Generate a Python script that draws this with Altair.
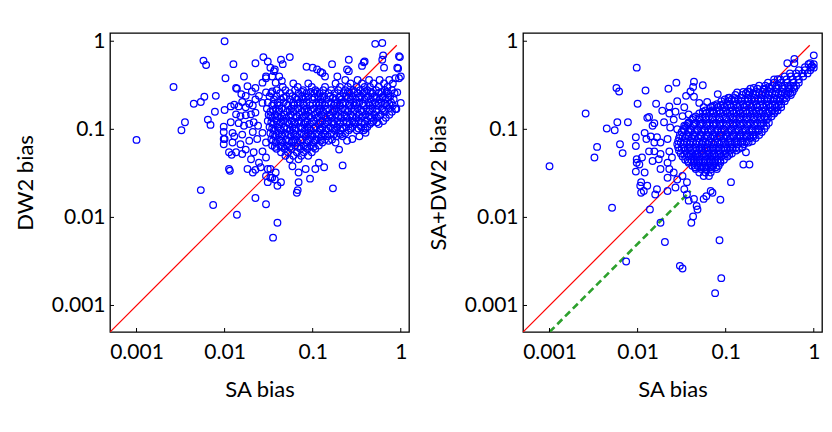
import altair as alt
import pandas as pd

# ---- values, as log10(SA bias), log10(other bias) ----
tick_values = [0.001, 0.01, 0.1, 1]
axis_domain = [0.0005, 1.24]
diag_ends = [0.0005, 0.9]          # red y = x line
green_sa = [0.001, 0.04]           # green dashed line (y = x/2)
green_y = [0.0005, 0.02]

left_outer = [
    (-3.00,-1.12),(-2.58,-0.52),(-2.49,-1.01),(-2.45,-0.92),(-2.35,-0.71),(-2.27,-0.69),(-2.23,-0.63),
    (-2.24,-0.22),(-2.21,-0.27),(-2.27,-1.69),(-2.19,-0.89),(-2.16,-0.95),(-2.13,-1.86),(-2.10,-0.62),
    (-2.11,-0.80),(-2.00,0.00),(-1.99,-0.42),(-1.90,-0.26),(-1.86,-1.97),(-2.00,-0.78),(-2.01,-0.97),
    (-2.00,-1.11),(-2.01,-1.17),(-1.95,-1.26),(-1.92,-1.29),(-1.95,-1.45),(-1.94,-1.47),(-1.86,-0.54),
    (-1.78,-0.40),(-1.89,-1.08),(-1.80,-1.28),(-1.65,-0.25),(-1.56,-0.18),(-1.65,-1.78),(-1.53,-1.85),
    (-1.40,-2.06),(-1.45,-2.23),(-1.26,-0.18),(-1.36,-0.21),(-1.18,-1.72),(-1.17,-1.69),(-1.16,-1.60),
    (-1.03,-1.56),(-0.77,-1.67),(-0.66,-1.41),(-0.78,-0.26),(-0.29,-0.03),(-0.21,-0.02),(-0.20,-0.16),
    (-0.01,-0.18),(-0.03,-0.31),(0.00,-0.40),(-0.02,-0.42),(0.00,-0.70),(-0.05,-0.77),(-0.41,-0.23),
    (-0.44,-0.28),(-0.61,-0.32),(-0.59,-0.34),(-1.07,-0.29),(-1.00,-0.30),(-0.95,-0.32),(-0.89,-0.36),
    (-0.86,-0.40),(-1.48,-0.30),(-1.44,-0.34),(-1.38,-0.40),(-1.35,-0.45),(-1.51,-0.23),(-1.43,-0.32),
    (-1.34,-0.26),(-1.53,-0.40),(-0.91,-0.35),(-0.72,-0.40),(-0.59,-0.21),(-0.42,-0.24),(-0.21,-0.21),
    (-0.19,-0.30),(-0.04,-0.30),(-0.02,-0.17),(-0.06,-0.42),(-0.04,-0.58),(-0.06,-0.77),
    (-0.70,-1.23),(-0.61,-1.13),(-0.55,-1.11),(-0.47,-1.08),(-0.40,-1.04),
    (-1.23,-1.42),(-1.16,-1.49),(-1.08,-1.45),(-0.97,-1.45),(-0.93,-1.38),(-0.87,-1.43),
    (-1.36,-1.60),(-1.46,-1.55),(-1.40,-1.64),(-1.43,-1.57),
]

left_mid = [
    (-1.93,-0.74),(-1.89,-0.72),(-1.84,-0.74),(-1.80,-0.69),(-1.76,-0.75),(-1.72,-0.71),(-1.68,-0.73),
    (-1.65,-0.66),(-1.61,-0.62),(-1.57,-0.70),(-1.87,-0.83),(-1.82,-0.85),(-1.76,-0.84),(-1.70,-0.83),
    (-1.65,-0.81),(-1.93,-0.92),(-1.84,-0.93),(-1.78,-0.96),(-1.72,-0.94),(-1.67,-0.92),(-1.62,-0.96),
    (-2.01,-1.03),(-1.91,-1.04),(-1.80,-1.06),(-1.68,-1.03),(-1.57,-1.04),(-2.01,-1.11),(-1.91,-1.15),
    (-1.82,-1.17),(-1.72,-1.13),(-1.63,-1.11),(-1.53,-1.15),(-1.87,-1.26),(-1.76,-1.23),(-1.67,-1.26),
    (-1.57,-1.25),(-1.70,-1.34),(-1.61,-1.38),(-1.53,-1.32),(-1.74,-1.45),(-1.65,-1.46),(-1.59,-1.43),
    (-1.51,-1.45),(-1.48,-1.45),(-1.68,-1.49),(-1.53,-1.53),(-1.48,-1.55),(-1.42,-1.49),(-1.51,-1.60),
    (-1.87,-0.53),(-1.81,-0.60),(-1.74,-0.51),(-1.69,-0.57),(-1.65,-0.53),(-1.57,-0.47),(-1.53,-0.42),
    (-1.46,-0.40),(-1.42,-0.47),(-1.76,-0.62),(-1.53,-0.58),(-1.46,-0.57),
]

left_core_rows = [
    (-0.44, [-0.63,-0.49,-0.36,-0.24,-0.13]),
    (-0.48, [-1.22,-1.05,-0.74,-0.57,-0.44,-0.31,-0.19,-0.09]),
    (-0.52, [-1.34,-1.17,-1.01,-0.86,-0.69,-0.60,-0.50,-0.41,-0.35,-0.25,-0.15]),
    (-0.555, [-1.41,-1.31,-1.20,-1.11,-0.97,-0.88,-0.79,-0.71,-0.63,-0.54,-0.46,-0.38,-0.28,-0.18,-0.10]),
    (-0.59, [-1.47,-1.37,-1.26,-1.16,-1.07,-0.98,-0.92,-0.82,-0.75,-0.65,-0.58,-0.49,-0.43,-0.32,-0.25,-0.14,-0.07]),
    (-0.625, [-1.49,-1.41,-1.30,-1.23,-1.12,-1.05,-0.94,-0.87,-0.80,-0.69,-0.62,-0.55,-0.45,-0.37,-0.30,-0.20,-0.12]),
    (-0.66, [-1.44,-1.36,-1.26,-1.18,-1.10,-1.00,-0.91,-0.84,-0.74,-0.67,-0.57,-0.51,-0.41,-0.34,-0.24,-0.17,-0.08]),
    (-0.695, [-1.51,-1.40,-1.33,-1.22,-1.14,-1.07,-0.96,-0.89,-0.79,-0.72,-0.63,-0.54,-0.47,-0.37,-0.29,-0.22,-0.11]),
    (-0.73, [-1.46,-1.38,-1.28,-1.21,-1.10,-1.03,-0.93,-0.86,-0.76,-0.69,-0.59,-0.52,-0.42,-0.35,-0.27,-0.16,-0.09]),
    (-0.765, [-1.52,-1.42,-1.35,-1.24,-1.17,-1.07,-0.99,-0.91,-0.83,-0.73,-0.66,-0.56,-0.49,-0.39,-0.32,-0.21,-0.14]),
    (-0.80, [-1.48,-1.39,-1.29,-1.22,-1.12,-1.05,-0.95,-0.88,-0.77,-0.71,-0.60,-0.54,-0.44,-0.36,-0.28,-0.18,-0.10]),
    (-0.835, [-1.50,-1.43,-1.32,-1.25,-1.15,-1.08,-0.98,-0.90,-0.81,-0.74,-0.64,-0.57,-0.47,-0.40,-0.30,-0.23,-0.13]),
    (-0.87, [-1.46,-1.37,-1.30,-1.19,-1.12,-1.02,-0.95,-0.85,-0.78,-0.68,-0.61,-0.51,-0.45,-0.34,-0.27,-0.17]),
    (-0.905, [-1.51,-1.41,-1.33,-1.24,-1.16,-1.06,-0.99,-0.89,-0.82,-0.72,-0.65,-0.55,-0.48,-0.38,-0.31,-0.20]),
    (-0.94, [-1.45,-1.38,-1.27,-1.20,-1.10,-1.03,-0.93,-0.86,-0.76,-0.69,-0.58,-0.52,-0.41,-0.35,-0.25]),
    (-0.975, [-1.49,-1.40,-1.32,-1.23,-1.14,-1.06,-0.97,-0.89,-0.80,-0.72,-0.62,-0.55,-0.45,-0.38]),
    (-1.01, [-1.44,-1.36,-1.26,-1.19,-1.09,-1.02,-0.92,-0.85,-0.75,-0.68,-0.59,-0.50,-0.42]),
    (-1.045, [-1.48,-1.39,-1.31,-1.22,-1.13,-1.05,-0.96,-0.88,-0.79,-0.70,-0.63]),
    (-1.08, [-1.43,-1.35,-1.25,-1.18,-1.08,-1.00,-0.90,-0.83,-0.73,-0.66]),
    (-1.115, [-1.47,-1.38,-1.30,-1.20,-1.12,-1.03,-0.95,-0.86,-0.78]),
    (-1.15, [-1.42,-1.34,-1.24,-1.17,-1.07,-0.99,-0.89,-0.74]),
    (-1.185, [-1.46,-1.37,-1.29,-1.20,-1.10,-1.02,-0.93]),
    (-1.22, [-1.41,-1.32,-1.24,-1.14,-1.06,-0.97]),
    (-1.26, [-1.36,-1.28,-1.18,-1.10,-1.01]),
    (-1.30, [-1.31,-1.22,-1.13,-1.05]),
    (-1.34, [-1.26,-1.16]),
]

left_fill_rows = [
    (-0.575, [-1.12,-1.02,-0.95,-0.60,-0.53,-0.41,-0.34,-0.22,-0.16]),
    (-0.64, [-1.33,-1.20,-1.08,-0.98,-0.89,-0.77,-0.70,-0.60,-0.47,-0.39,-0.28,-0.21,-0.14]),
    (-0.71, [-1.44,-1.30,-1.17,-1.11,-1.00,-0.92,-0.82,-0.75,-0.66,-0.58,-0.50,-0.43,-0.32,-0.25,-0.18,-0.13]),
    (-0.78, [-1.45,-1.38,-1.26,-1.20,-1.09,-1.02,-0.93,-0.85,-0.75,-0.68,-0.63,-0.52,-0.45,-0.35,-0.27,-0.19]),
    (-0.85, [-1.48,-1.40,-1.35,-1.27,-1.18,-1.10,-1.04,-0.93,-0.87,-0.80,-0.71,-0.62,-0.55,-0.43,-0.36,-0.25]),
    (-0.92, [-1.47,-1.36,-1.29,-1.21,-1.13,-1.08,-1.01,-0.91,-0.84,-0.78,-0.69,-0.61,-0.53,-0.44,-0.33,-0.27]),
    (-0.99, [-1.46,-1.37,-1.29,-1.20,-1.12,-1.04,-0.99,-0.91,-0.82,-0.77,-0.66,-0.57,-0.48,-0.40]),
    (-1.06, [-1.45,-1.35,-1.27,-1.20,-1.10,-1.02,-0.93,-0.86,-0.76,-0.68]),
    (-1.13, [-1.45,-1.36,-1.27,-1.22,-1.14,-1.05,-0.97,-0.91,-0.82]),
    (-1.20, [-1.43,-1.35,-1.26,-1.17,-1.08,-0.99]),
]

right_outer = [
    (-3.00,-1.42),(-2.59,-0.82),(-2.49,-1.32),(-2.46,-1.20),(-2.35,-0.99),(-2.26,-1.01),(-2.23,-0.92),
    (-2.24,-0.53),(-2.21,-0.57),(-2.29,-1.89),(-2.20,-1.17),(-2.17,-1.27),(-2.13,-2.50),(-2.11,-0.92),
    (-2.01,-0.30),(-2.00,-0.71),(-1.91,-0.56),(-2.02,-1.09),(-2.01,-1.34),(-2.01,-1.38),(-2.02,-1.48),
    (-1.97,-1.64),(-1.96,-1.72),(-1.93,-1.70),(-1.86,-1.91),(-1.80,-1.74),(-1.74,-2.06),(-1.69,-2.28),
    (-1.79,-0.71),(-1.87,-0.86),(-1.65,-0.54),(-1.56,-0.47),(-1.52,-2.55),(-1.49,-2.58),(-1.39,-2.06),
    (-1.37,-1.99),(-1.36,-0.46),(-1.37,-0.52),(-1.36,-0.63),(-1.26,-0.50),(-1.32,-1.91),(-1.22,-1.76),
    (-1.17,-1.70),(-1.15,-1.72),(-1.06,-1.80),(-1.07,-2.26),(-1.05,-2.69),(-1.12,-2.86),(-0.94,-1.60),
    (-0.80,-1.40),(-0.73,-1.40),(-0.77,-1.26),(-0.30,-0.25),(-0.22,-0.20),(-0.22,-0.25),(0.00,-0.16),
    (-0.04,-0.25),(0.00,-0.30),(-0.02,-0.28),(-0.41,-0.43),
    (-1.89,-0.87),(-1.83,-0.96),(-1.81,-0.93),(-1.92,-1.04),(-1.85,-1.08),(-1.78,-1.09),(-1.90,-1.11),
    (-1.81,-1.15),(-1.74,-1.15),(-1.66,-1.11),(-1.87,-1.25),(-1.81,-1.25),(-1.74,-1.28),(-1.64,-1.25),
    (-1.83,-1.36),(-1.76,-1.34),(-1.66,-1.38),(-1.61,-1.32),(-1.74,-1.45),(-1.64,-1.45),(-1.59,-1.49),
    (-1.66,-1.55),(-1.55,-1.57),(-1.49,-1.53),(-1.44,-1.60),
    (-1.72,-0.79),(-1.64,-0.82),(-1.57,-0.80),(-1.47,-0.75),(-1.59,-0.89),(-1.49,-0.85),(-1.42,-0.83),
    (-1.70,-0.92),(-1.63,-0.98),(-1.55,-1.00),(-1.47,-0.96),(-1.42,-0.92),
    (-2.02,-1.19),(-1.95,-1.32),(-1.98,-1.40),(-1.92,-1.49),(-1.96,-1.60),(-1.89,-1.64),(-1.78,-1.68),
    (-1.66,-1.70),(-1.57,-1.66),(-1.47,-1.68),(-1.44,-1.74),(-1.36,-1.79),(-1.42,-1.81),(-1.33,-1.87),
    (-1.25,-1.79),
    (-1.64,-0.74),(-1.55,-0.68),(-1.45,-0.62),(-1.40,-0.57),(-1.30,-0.70),(-1.25,-0.75),(-1.21,-0.69),
    (-1.15,-0.74),(-1.09,-0.60),(-0.96,-0.64),(-0.87,-0.58),(-0.75,-0.57),(-0.68,-0.53),(-0.56,-0.55),
]

right_core_rows = [
    (-0.26, [-0.06, 0.00]),
    (-0.295, [-0.10,-0.03]),
    (-0.33, [-0.17,-0.10,-0.04]),
    (-0.365, [-0.27,-0.20,-0.13,-0.07]),
    (-0.40, [-0.33,-0.26,-0.19,-0.12]),
    (-0.435, [-0.45,-0.38,-0.31,-0.24,-0.17]),
    (-0.47, [-0.52,-0.45,-0.37,-0.30,-0.23,-0.17]),
    (-0.505, [-0.62,-0.55,-0.47,-0.40,-0.33,-0.26,-0.20]),
    (-0.54, [-0.72,-0.64,-0.57,-0.49,-0.42,-0.35,-0.28,-0.22]),
    (-0.575, [-0.80,-0.73,-0.65,-0.58,-0.50,-0.43,-0.36,-0.29,-0.24]),
    (-0.61, [-0.89,-0.81,-0.74,-0.66,-0.59,-0.51,-0.44,-0.37,-0.31,-0.26]),
    (-0.645, [-0.97,-0.90,-0.82,-0.75,-0.67,-0.60,-0.52,-0.45,-0.38,-0.31]),
    (-0.68, [-1.05,-0.97,-0.90,-0.82,-0.75,-0.67,-0.60,-0.53,-0.46,-0.39,-0.33]),
    (-0.715, [-1.10,-1.03,-0.95,-0.88,-0.80,-0.73,-0.65,-0.58,-0.51,-0.44,-0.37]),
    (-0.75, [-1.17,-1.09,-1.01,-0.94,-0.86,-0.79,-0.71,-0.64,-0.57,-0.49,-0.42,-0.37]),
    (-0.785, [-1.23,-1.15,-1.07,-1.00,-0.92,-0.85,-0.77,-0.70,-0.62,-0.55,-0.47,-0.41]),
    (-0.82, [-1.30,-1.22,-1.14,-1.06,-0.98,-0.91,-0.83,-0.76,-0.68,-0.60,-0.52,-0.45]),
    (-0.855, [-1.34,-1.26,-1.19,-1.11,-1.03,-0.95,-0.88,-0.80,-0.72,-0.64,-0.56,-0.48]),
    (-0.89, [-1.38,-1.30,-1.22,-1.15,-1.07,-0.99,-0.91,-0.84,-0.76,-0.68,-0.60,-0.53]),
    (-0.925, [-1.42,-1.34,-1.26,-1.18,-1.11,-1.03,-0.95,-0.88,-0.80,-0.72,-0.64,-0.57,-0.51]),
    (-0.96, [-1.45,-1.37,-1.29,-1.21,-1.14,-1.06,-0.99,-0.91,-0.83,-0.75,-0.67,-0.60,-0.54]),
    (-0.995, [-1.48,-1.40,-1.32,-1.24,-1.17,-1.09,-1.02,-0.94,-0.86,-0.78,-0.70,-0.63,-0.56]),
    (-1.03, [-1.50,-1.42,-1.35,-1.27,-1.20,-1.12,-1.05,-0.97,-0.89,-0.81,-0.73,-0.66,-0.59]),
    (-1.065, [-1.52,-1.44,-1.37,-1.29,-1.22,-1.15,-1.07,-1.00,-0.92,-0.84,-0.77,-0.69,-0.62]),
    (-1.10, [-1.53,-1.46,-1.39,-1.31,-1.24,-1.17,-1.10,-1.02,-0.95,-0.87,-0.80,-0.72,-0.66]),
    (-1.135, [-1.54,-1.47,-1.40,-1.33,-1.26,-1.19,-1.12,-1.05,-0.97,-0.90,-0.83,-0.76,-0.70]),
    (-1.17, [-1.55,-1.48,-1.41,-1.34,-1.27,-1.21,-1.14,-1.07,-1.00,-0.93,-0.86,-0.79]),
    (-1.205, [-1.54,-1.47,-1.41,-1.34,-1.28,-1.21,-1.15,-1.08,-1.02,-0.95,-0.88,-0.81]),
    (-1.24, [-1.53,-1.46,-1.40,-1.33,-1.27,-1.20,-1.14,-1.08,-1.01,-0.95,-0.88]),
    (-1.275, [-1.51,-1.44,-1.38,-1.32,-1.25,-1.19,-1.13,-1.06,-1.00,-0.93]),
    (-1.31, [-1.49,-1.42,-1.36,-1.30,-1.23,-1.17,-1.11,-1.05,-0.98]),
    (-1.345, [-1.46,-1.39,-1.33,-1.27,-1.21,-1.15,-1.09,-1.02]),
    (-1.38, [-1.42,-1.36,-1.30,-1.24,-1.18,-1.12,-1.06]),
    (-1.415, [-1.38,-1.32,-1.26,-1.20,-1.14,-1.08]),
    (-1.45, [-1.34,-1.28,-1.22,-1.16,-1.10]),
    (-1.49, [-1.30,-1.23,-1.17]),
    (-1.53, [-1.25,-1.19]),
]

right_fill_rows = [
    (-0.52, [-0.51,-0.43,-0.36,-0.29,-0.23]),
    (-0.59, [-0.77,-0.69,-0.62,-0.55,-0.47,-0.40,-0.33,-0.27]),
    (-0.66, [-1.01,-0.93,-0.86,-0.78,-0.71,-0.63,-0.56,-0.49,-0.42,-0.35]),
    (-0.73, [-1.13,-1.06,-0.98,-0.91,-0.84,-0.76,-0.69,-0.61,-0.54,-0.47,-0.40]),
    (-0.80, [-1.26,-1.18,-1.10,-1.03,-0.95,-0.88,-0.80,-0.73,-0.65,-0.58,-0.50,-0.44]),
    (-0.87, [-1.37,-1.30,-1.23,-1.15,-1.07,-1.00,-0.92,-0.84,-0.76,-0.68,-0.60,-0.52]),
    (-0.94, [-1.43,-1.36,-1.29,-1.22,-1.14,-1.07,-0.99,-0.92,-0.84,-0.76,-0.68,-0.60]),
    (-1.01, [-1.47,-1.39,-1.32,-1.24,-1.16,-1.09,-1.01,-0.93,-0.85,-0.77,-0.70,-0.62]),
    (-1.08, [-1.49,-1.42,-1.35,-1.28,-1.20,-1.13,-1.06,-0.98,-0.91,-0.83,-0.76,-0.68]),
    (-1.15, [-1.51,-1.44,-1.37,-1.30,-1.23,-1.16,-1.09,-1.02,-0.95,-0.88,-0.81,-0.74]),
    (-1.22, [-1.50,-1.43,-1.37,-1.30,-1.24,-1.17,-1.11,-1.05,-0.98,-0.92,-0.85]),
    (-1.29, [-1.47,-1.40,-1.34,-1.27,-1.21,-1.15,-1.08,-1.02,-0.96]),
    (-1.36, [-1.43,-1.36,-1.30,-1.24,-1.18,-1.12,-1.06]),
    (-1.43, [-1.35,-1.29,-1.23,-1.17,-1.11]),
]


def build(pairs, *row_sets):
    pts = list(pairs)
    for rows in row_sets:
        pts += [(lx, ly) for ly, xs in rows for lx in xs]
    return pd.DataFrame({"sa": [10 ** p[0] for p in pts], "other": [10 ** p[1] for p in pts]})


left_df = build(left_outer + left_mid, left_core_rows, left_fill_rows)
right_df = build(right_outer, right_core_rows, right_fill_rows)
diag_df = pd.DataFrame({"sa": diag_ends, "other": diag_ends})
green_df = pd.DataFrame({"sa": green_sa, "other": green_y})
tick_df = pd.DataFrame({"sa": tick_values, "other": tick_values})

W = 299
H = 299
FONT = "Lato"
scale = alt.Scale(type="log", domain=axis_domain, nice=False)


def axis(title, label_pad, title_pad):
    return alt.Axis(values=tick_values, format="~g", title=title, tickSize=0, domain=False,
                    grid=False, labelFontSize=21, titleFontSize=22, labelFont=FONT, titleFont=FONT,
                    labelColor="black", titleColor="black", titleFontWeight="normal",
                    labelFlush=False, labelOverlap=False, labelPadding=label_pad,
                    titlePadding=title_pad)


def panel(df, ytitle, with_green):
    xenc = alt.X("sa:Q", scale=scale, axis=axis("SA bias", 9, 17))
    yenc = alt.Y("other:Q", scale=scale, axis=axis(ytitle, 5, 14))
    diag = alt.Chart(diag_df).mark_line(color="#ff0000", strokeWidth=1.2, clip=True).encode(
        x=xenc, y=yenc)
    layers = [diag]
    if with_green:
        layers.append(alt.Chart(green_df).mark_line(color="#2ca02c", strokeWidth=2.6,
                                                    strokeDash=[7, 4], clip=True).encode(
            x=xenc, y=yenc))
    pts = alt.Chart(df).mark_point(shape="circle", filled=False, color="#0000ff", size=44,
                                   strokeWidth=1.25, opacity=1).encode(x=xenc, y=yenc)
    layers.append(pts)
    xt = alt.Chart(tick_df).mark_rule(color="black", strokeWidth=1).encode(
        x=xenc, y=alt.value(H - 4), y2=alt.value(H))
    yt = alt.Chart(tick_df).mark_rule(color="black", strokeWidth=1).encode(
        y=yenc, x=alt.value(0), x2=alt.value(4))
    layers += [xt, yt]
    return alt.layer(*layers).properties(width=W, height=H)


chart = alt.hconcat(
    panel(left_df, "DW2 bias", False),
    panel(right_df, "SA+DW2 bias", True),
    spacing=16,
).properties(
    padding={"left": 5, "top": 21, "right": 0, "bottom": 5},
    background="white",
).configure_view(stroke="black", strokeWidth=1.3)

chart.save("out.html", embed_options={"renderer": "svg", "actions": False})
